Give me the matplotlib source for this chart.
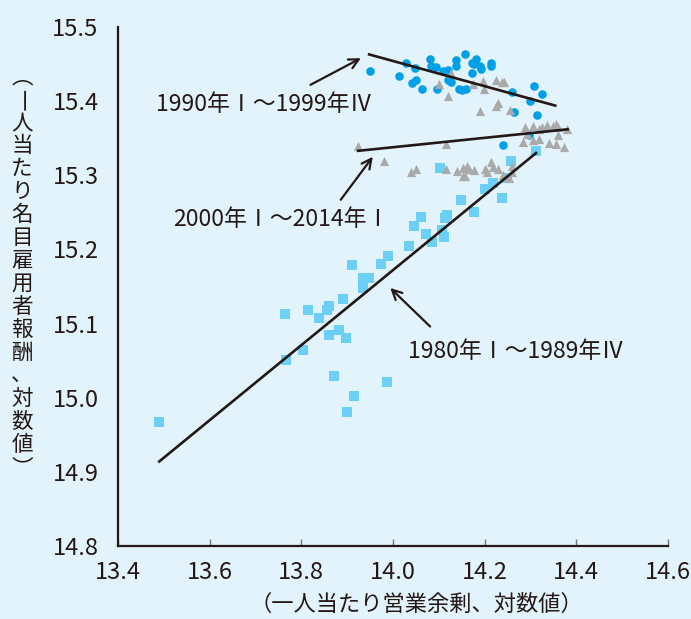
import numpy as np
import matplotlib
matplotlib.use('Agg')
import matplotlib.pyplot as plt

plt.rcParams['font.family'] = ['Noto Sans CJK JP', 'DejaVu Sans']

# 1980年Ⅰ～1989年Ⅳ（四角）
x_80s = [13.490, 13.764, 13.767, 13.803, 13.815, 13.839, 13.857, 13.861, 13.860, 13.872,
         13.882, 13.892, 13.897, 13.899, 13.911, 13.914, 13.935, 13.948, 13.935, 13.974,
         13.987, 13.990, 14.034, 14.046, 14.061, 14.073, 14.085, 14.107, 14.111, 14.114,
         14.118, 14.103, 14.149, 14.177, 14.201, 14.219, 14.237, 14.248, 14.258, 14.312]
y_80s = [14.967, 15.113, 15.051, 15.064, 15.118, 15.108, 15.118, 15.124, 15.085, 15.029,
         15.091, 15.133, 15.081, 14.981, 15.179, 15.002, 15.161, 15.162, 15.148, 15.180,
         15.021, 15.191, 15.205, 15.232, 15.244, 15.221, 15.210, 15.226, 15.217, 15.243,
         15.246, 15.310, 15.267, 15.250, 15.281, 15.290, 15.270, 15.296, 15.319, 15.333]

# 1990年Ⅰ～1999年Ⅳ（丸）
x_90s = [13.950, 14.012, 14.028, 14.049, 14.041, 14.050, 14.063, 14.081, 14.082, 14.094,
         14.097, 14.110, 14.119, 14.119, 14.126, 14.138, 14.138, 14.156, 14.143, 14.151,
         14.159, 14.172, 14.180, 14.176, 14.190, 14.192, 14.172, 14.213, 14.214, 14.260,
         14.264, 14.308, 14.324, 14.299, 14.315, 14.297, 14.239]
y_90s = [15.440, 15.434, 15.452, 15.445, 15.425, 15.429, 15.417, 15.457, 15.448, 15.446,
         15.416, 15.441, 15.442, 15.429, 15.426, 15.456, 15.447, 15.463, 15.416, 15.415,
         15.417, 15.452, 15.457, 15.450, 15.448, 15.444, 15.438, 15.452, 15.448, 15.412,
         15.386, 15.420, 15.409, 15.400, 15.381, 15.354, 15.341]

# 2000年Ⅰ～2014年Ⅰ（三角）
x_00s = [14.126, 14.101, 14.120, 14.175, 14.196, 14.199, 14.224, 14.238, 14.243, 14.229,
         14.225, 14.190, 14.255,
         14.287, 14.306, 14.319, 14.326, 14.337, 14.348, 14.355, 14.361, 14.379, 14.283,
         14.293, 14.306, 14.319, 14.341, 14.356, 14.361, 14.373,
         13.924, 14.116, 13.980, 14.039, 14.050, 14.116, 14.140, 14.153, 14.162, 14.165,
         14.153, 14.156, 14.177, 14.201, 14.204, 14.214, 14.218, 14.228, 14.239, 14.253,
         14.259, 14.259]
y_00s = [15.438, 15.423, 15.407, 15.423, 15.427, 15.416, 15.429, 15.426, 15.426, 15.398,
         15.393, 15.387, 15.388,
         15.365, 15.367, 15.363, 15.365, 15.368, 15.366, 15.369, 15.365, 15.363, 15.345,
         15.356, 15.347, 15.349, 15.343, 15.342, 15.354, 15.338,
         15.340, 15.342, 15.319, 15.305, 15.308, 15.308, 15.306, 15.310, 15.313, 15.309,
         15.299, 15.299, 15.307, 15.308, 15.304, 15.318, 15.311, 15.308, 15.301, 15.297,
         15.312, 15.304]

# 各期間の回帰直線（両端）
fit_80s_x = [13.490, 14.312]
fit_80s_y = [14.914, 15.330]
fit_90s_x = [13.948, 14.354]
fit_90s_y = [15.463, 15.394]
fit_00s_x = [13.924, 14.381]
fit_00s_y = [15.333, 15.362]

labels = ['1980年Ⅰ～1989年Ⅳ', '1990年Ⅰ～1999年Ⅳ', '2000年Ⅰ～2014年Ⅰ']
label_pos = [(14.268, 15.062), (13.720, 15.395), (13.756, 15.241)]
arrow_tail = [(14.081, 15.096), (13.820, 15.422), (13.886, 15.267)]
arrow_head = [(13.994, 15.148), (13.930, 15.458), (13.956, 15.325)]

xticks = [13.4, 13.6, 13.8, 14.0, 14.2, 14.4, 14.6]
yticks = [14.8, 14.9, 15.0, 15.1, 15.2, 15.3, 15.4, 15.5]
xlabel = '（一人当たり営業余剰、対数値）'
# 縦書き用の括弧（︵︶）を使う
ylabel = '︵一人当たり名目雇用者報酬、対数値︶'

bg = '#e2f3fb'
ink = '#231815'

fig = plt.figure(figsize=(6.91, 6.19), dpi=100, facecolor=bg)
ax = fig.add_axes([118 / 691, 1 - 546 / 619, 550 / 691, 519 / 619], facecolor=bg)

ax.scatter(x_80s, y_80s, marker='s', s=55, color='#6ccff6', linewidths=0, zorder=3)
ax.scatter(x_90s, y_90s, marker='o', s=38, color='#00a0e9', linewidths=0, zorder=3)
ax.scatter(x_00s, y_00s, marker='^', s=44, color='#aaaaaa', linewidths=0, zorder=3)

for fx, fy in [(fit_80s_x, fit_80s_y), (fit_90s_x, fit_90s_y), (fit_00s_x, fit_00s_y)]:
    ax.plot(fx, fy, color=ink, lw=1.9, zorder=4)

for txt, pos, tail, head in zip(labels, label_pos, arrow_tail, arrow_head):
    ax.text(pos[0], pos[1], txt, ha='center', va='center', fontsize=16.5, color=ink)
    ax.annotate('', xy=head, xytext=tail,
                arrowprops=dict(arrowstyle='->,head_length=0.7,head_width=0.35',
                                color=ink, lw=1.6, shrinkA=0, shrinkB=0))

ax.set_xlim(13.4, 14.6)
ax.set_ylim(14.8, 15.5)
ax.set_xticks(xticks)
ax.set_yticks(yticks)
ax.set_xticklabels([f'{v:.1f}' for v in xticks])
ax.set_yticklabels([f'{v:.1f}' for v in yticks])
ax.tick_params(axis='x', direction='in', length=5, width=1, color='#777777',
               labelsize=17, labelcolor=ink, pad=11)
ax.tick_params(axis='y', length=0, labelsize=17, labelcolor=ink, pad=14)

for side in ['top', 'right']:
    ax.spines[side].set_visible(False)
for side in ['left', 'bottom']:
    ax.spines[side].set_color(ink)
    ax.spines[side].set_linewidth(1.6)

fig.text(416 / 691, 1 - 604 / 619, xlabel, ha='center', va='center',
         fontsize=16, color=ink)

# 縦書きのy軸ラベル（一文字ずつ配置）
for i, ch in enumerate(ylabel):
    rot = -90 if ch == '一' else 0
    fig.text(22 / 691, 1 - (77 + i * 23) / 619, ch, ha='center', va='center',
             fontsize=15.5, color=ink, rotation=rot)

fig.savefig('out.png', dpi=100, facecolor=bg)
